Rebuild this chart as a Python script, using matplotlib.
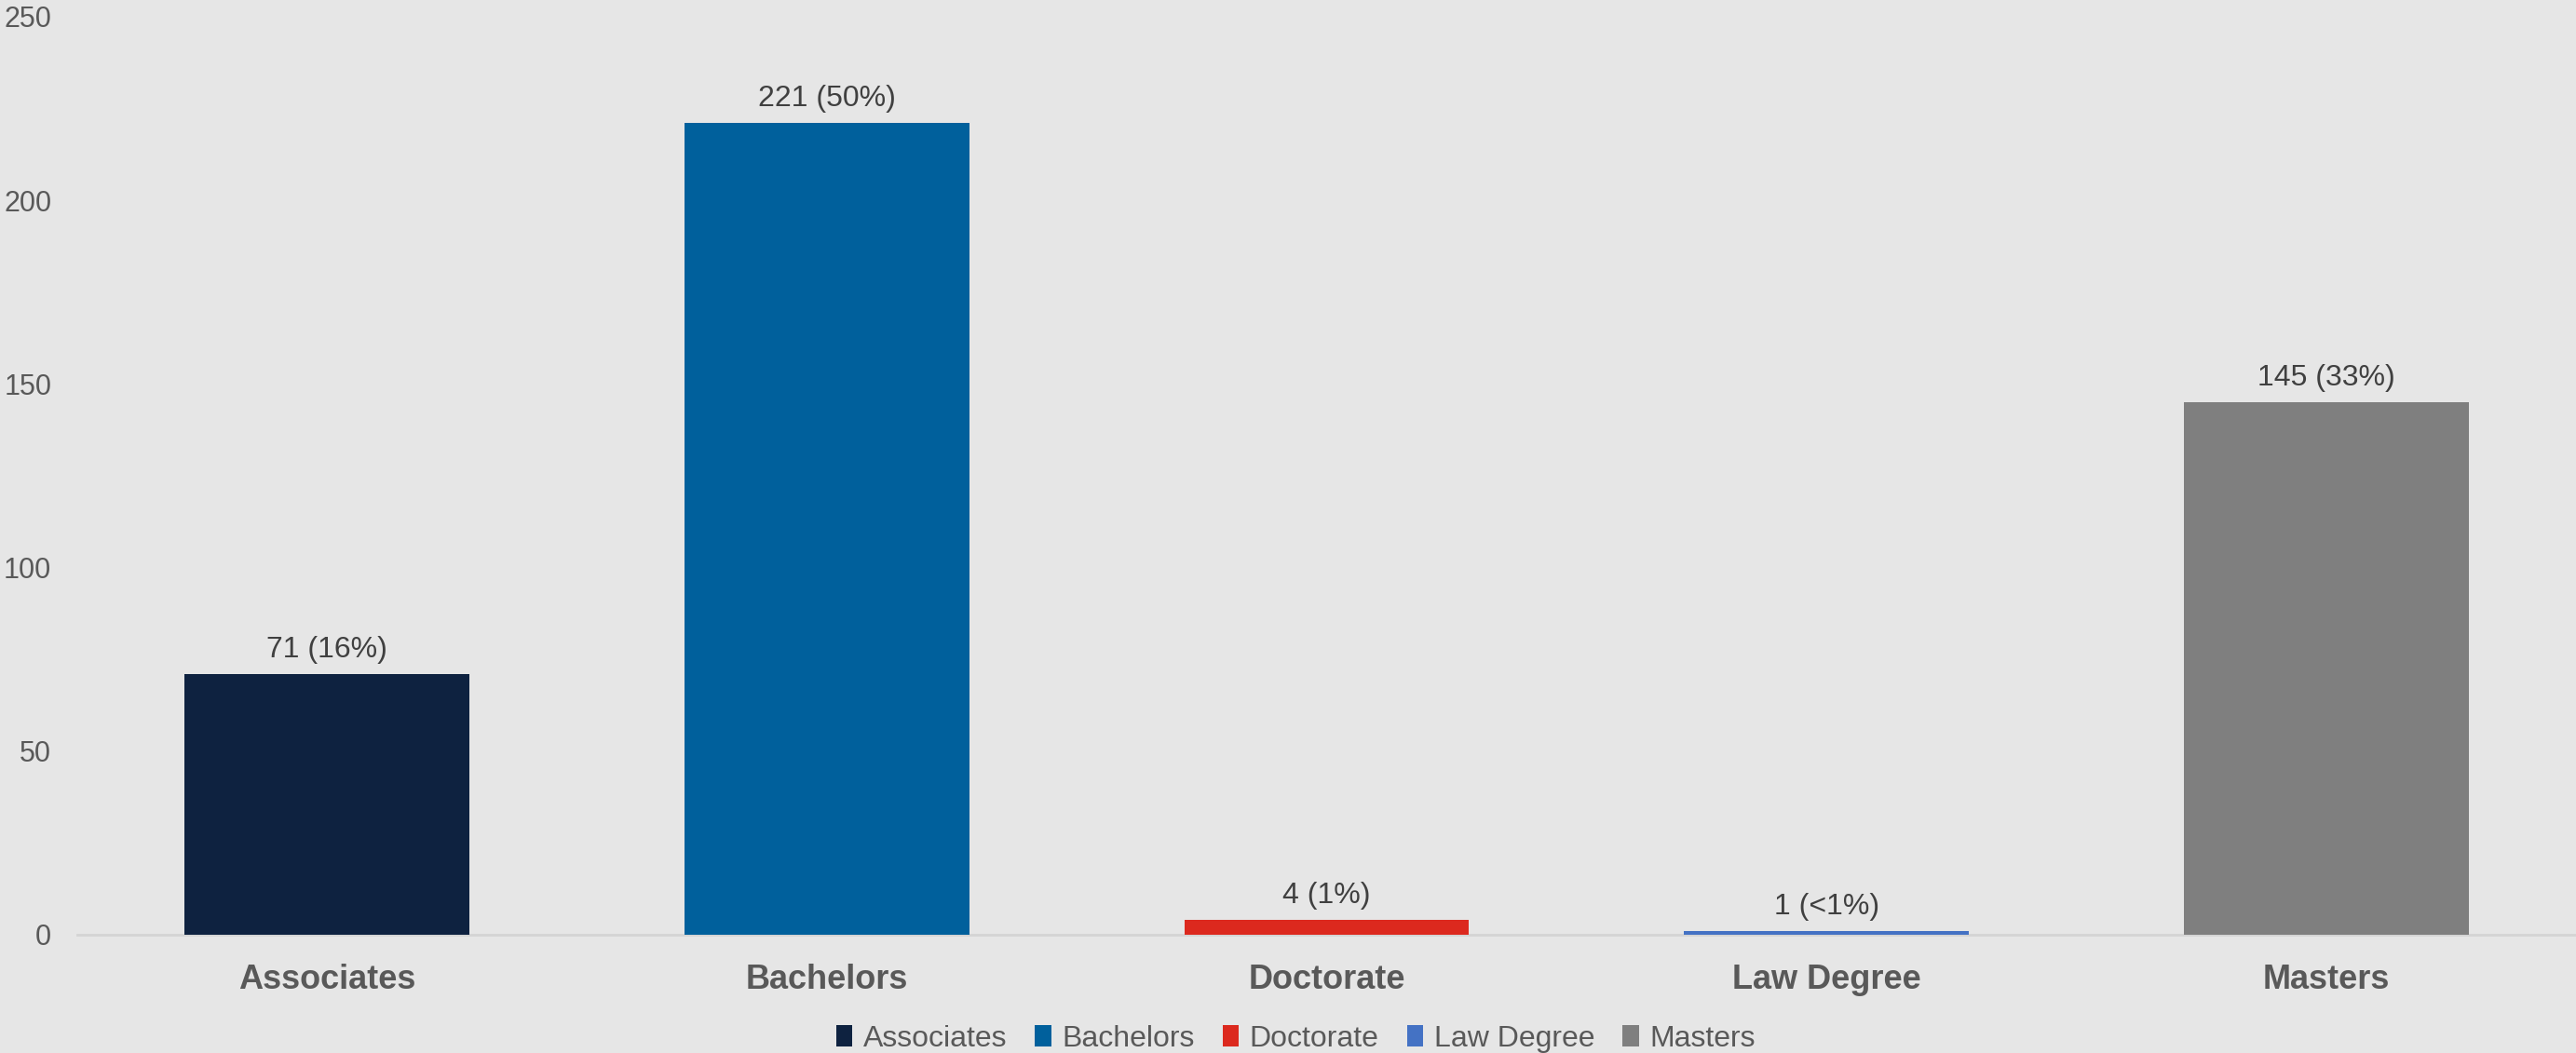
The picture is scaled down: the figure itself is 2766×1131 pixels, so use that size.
import matplotlib.pyplot as plt
from matplotlib.patches import Patch

plt.rcParams['font.family'] = ['Liberation Sans', 'DejaVu Sans']

# Datos del gráfico
categorias = ['Associates', 'Bachelors', 'Doctorate', 'Law Degree', 'Masters']
valores = [71, 221, 4, 1, 145]
etiquetas = ['71 (16%)', '221 (50%)', '4 (1%)', '1 (<1%)', '145 (33%)']
colores = ['#0E2240', '#00609C', '#DC291E', '#4472C4', '#7F7F7F']
yticks = [0, 50, 100, 150, 200, 250]

fondo = '#E6E6E6'

fig = plt.figure(figsize=(27.66, 11.31), dpi=100, facecolor=fondo)
ax = fig.add_axes([0.030, 0.1123, 0.970, 0.8718])
ax.set_facecolor(fondo)

x = range(len(categorias))
ax.bar(x, valores, width=0.57, color=colores, zorder=3)

# etiquetas sobre las barras
for i, v in enumerate(valores):
    ax.annotate(etiquetas[i], (i, v), xytext=(0, 8), textcoords='offset points',
                ha='center', va='bottom', fontsize=23, color='#404040')

ax.set_xlim(-0.5, 4.5)
ax.set_ylim(0, 250)
ax.set_yticks(yticks)
ax.set_yticklabels([str(t) for t in yticks], fontsize=22, color='#595959')
ax.set_xticks(list(x))
ax.set_xticklabels(categorias, fontsize=26, fontweight='bold', color='#595959')
ax.tick_params(axis='both', length=0)
ax.tick_params(axis='y', pad=20)
ax.tick_params(axis='x', pad=22)

for s in ['top', 'right', 'left']:
    ax.spines[s].set_visible(False)
ax.spines['bottom'].set_color('#D4D4D4')
ax.spines['bottom'].set_linewidth(2)

handles = [Patch(facecolor=c, label=n) for c, n in zip(colores, categorias)]
fig.legend(handles=handles, loc='lower center', bbox_to_anchor=(0.503, -0.025),
           ncol=5, frameon=False, fontsize=23, handlelength=0.55, handleheight=0.7,
           handletextpad=0.35, columnspacing=0.95, labelcolor='#595959')

fig.savefig('out.png', dpi=100, facecolor=fondo)
